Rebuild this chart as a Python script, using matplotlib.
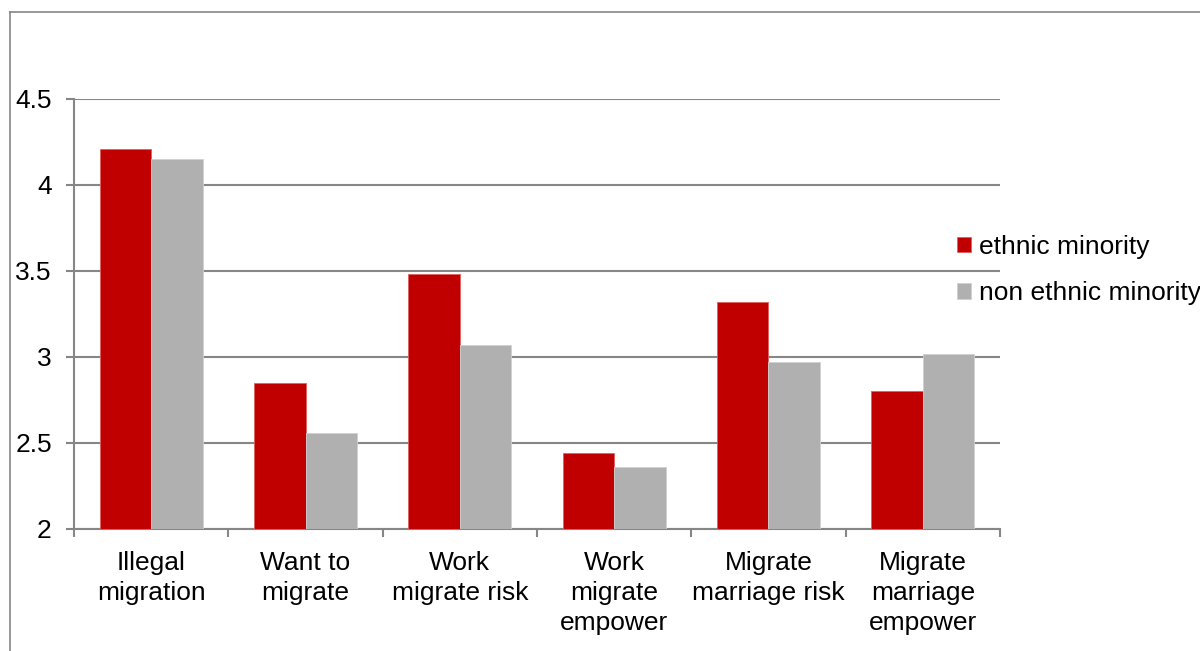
import matplotlib.pyplot as plt
import numpy as np
from matplotlib.lines import Line2D

plt.rcParams['font.family'] = ['Liberation Sans', 'DejaVu Sans']

categories = ['Illegal\nmigration', 'Want to\nmigrate', 'Work\nmigrate risk',
              'Work\nmigrate\nempower', 'Migrate\nmarriage risk', 'Migrate\nmarriage\nempower']
ethnic_minority = [4.21, 2.85, 3.48, 2.44, 3.32, 2.80]
non_ethnic_minority = [4.15, 2.56, 3.07, 2.36, 2.97, 3.02]
series_names = ['ethnic minority', 'non ethnic minority']
yticks = [2, 2.5, 3, 3.5, 4, 4.5]
ytick_labels = ['2', '2.5', '3', '3.5', '4', '4.5']

red = '#C00000'
grey = '#B0B0B0'
axis_grey = '#868686'
fs = 19

fig = plt.figure(figsize=(12, 6.51), dpi=100)
ax = fig.add_axes([74 / 1200, 1 - 529 / 651, 926 / 1200, 430 / 651])

x = np.arange(len(categories))
w = 1 / 3
ax.bar(x - w / 2, np.array(ethnic_minority) - 2, w, bottom=2, color=red,
       edgecolor='#E06060', linewidth=0.6, label=series_names[0], zorder=3)
ax.bar(x + w / 2, np.array(non_ethnic_minority) - 2, w, bottom=2, color=grey,
       edgecolor='#D0D0D0', linewidth=0.6, label=series_names[1], zorder=3)

ax.set_xlim(-0.5, len(categories) - 0.5)
ax.set_ylim(2, 4.5)
ax.set_yticks(yticks)
ax.set_yticklabels(ytick_labels)
ax.yaxis.grid(True, color=axis_grey, linewidth=1.5, zorder=0)
ax.set_axisbelow(True)

# category labels sit between the boundary ticks
ax.set_xticks(np.arange(len(categories) + 1) - 0.5)
ax.set_xticklabels([])
ax.set_xticks(x, minor=True)
ax.set_xticklabels(categories, minor=True, linespacing=1.3)
ax.tick_params(axis='x', which='minor', length=0, pad=16, labelsize=fs)
ax.tick_params(axis='x', which='major', length=6, width=1.5, color=axis_grey)
ax.tick_params(axis='y', length=6, width=1.5, color=axis_grey, pad=10, labelsize=fs)

for side in ['top', 'right']:
    ax.spines[side].set_visible(False)
for side in ['left', 'bottom']:
    ax.spines[side].set_color(axis_grey)
    ax.spines[side].set_linewidth(1.5)

leg = ax.legend(loc='upper left', bbox_to_anchor=(957 / 1200, 1 - 235 / 651),
                bbox_transform=fig.transFigure, frameon=False, fontsize=fs,
                handlelength=0.52, handleheight=0.52, handletextpad=0.3,
                labelspacing=0.85, borderpad=0, borderaxespad=0)

# outer chart frame
fig.add_artist(Line2D([10 / 1200, 10 / 1200], [0, 1 - 12 / 651], color=axis_grey,
                      linewidth=1.2, transform=fig.transFigure))
fig.add_artist(Line2D([10 / 1200, 1], [1 - 12 / 651, 1 - 12 / 651], color=axis_grey,
                      linewidth=1.2, transform=fig.transFigure))

fig.savefig('out.png', dpi=100)
